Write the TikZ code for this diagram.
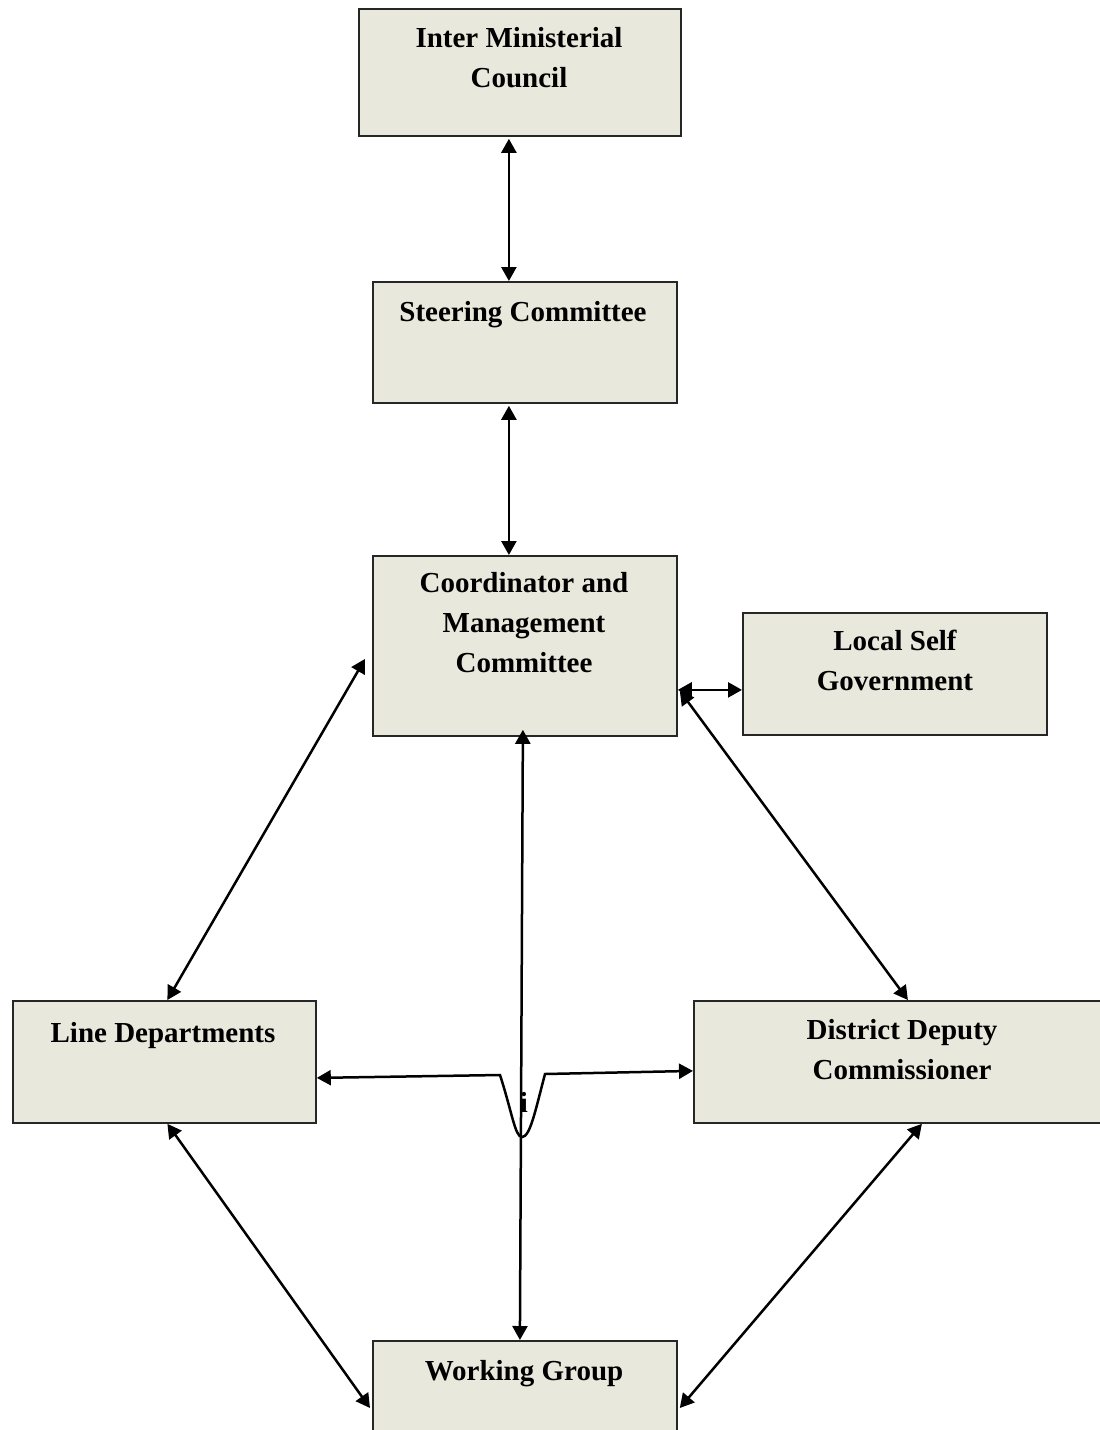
\documentclass[tikz,border=0pt]{standalone}
\usepackage{fontspec}
\setmainfont{Liberation Serif}
\usetikzlibrary{arrows.meta,calc}
\definecolor{boxfill}{RGB}{233,232,220}
\tikzset{
  box/.style={draw=black!85,line width=1.8pt,fill=boxfill,rectangle,inner sep=0pt,anchor=north west},
  lbl/.style={font=\fontsize{29}{40}\selectfont\bfseries,align=center,anchor=base,inner sep=0pt},
  conn/.style={line width=2.5pt,{Triangle[length=14pt,width=15pt]}-{Triangle[length=14pt,width=15pt]}}
}
\begin{document}
\begin{tikzpicture}[x=1pt,y=-1pt]
\clip (0,0) rectangle (1100,1430);
\fill[white] (0,0) rectangle (1100,1430);
% boxes
\node[box,minimum width=322pt,minimum height=127pt] (imc) at (358,8) {};
\node[box,minimum width=304pt,minimum height=121pt] (sc) at (372,281) {};
\node[box,minimum width=304pt,minimum height=180pt] (cmc) at (372,555) {};
\node[box,minimum width=304pt,minimum height=122pt] (lsg) at (742,612) {};
\node[box,minimum width=303pt,minimum height=122pt] (ld) at (12,1000) {};
\node[box,minimum width=420pt,minimum height=122pt] (ddc) at (693,1000) {};
\node[box,minimum width=304pt,minimum height=130pt] (wg) at (372,1340) {};
% labels (anchor base = baseline of the last line)
\node[lbl] (imct) at (519,87) {Inter Ministerial\\Council};
\node[lbl] (sct) at (523,321) {Steering Committee};
\node[lbl] (cmct) at (524,672) {Coordinator and\\Management\\Committee};
\node[lbl] (lsgt) at (895,690) {Local Self\\Government};
\node[lbl] (ldt) at (163,1042) {Line Departments};
\node[lbl] (ddct) at (902,1079) {District Deputy\\Commissioner};
\node[lbl] (wgt) at (524,1380) {Working Group};
\node[lbl] (it) at (524,1112) {i};
% connectors
\draw[conn] ($(imc.south)+(-11,2)$) -- ($(sc.north)+(-16,0)$);
\draw[conn] ($(sc.south)+(-16,2)$) -- ($(cmc.north)+(-16,0)$);
\draw[conn] ($(cmc.west)+(-7,13)$) -- ($(ld.north)+(3,0)$);
\draw[conn] ($(cmc.east)+(0,44)$) -- ($(lsg.west)+(0,16)$);
\draw[conn] ($(cmc.south east)+(2,-46)$) -- ($(ddc.north)+(4,0)$);
\draw[conn] ($(cmc.south)+(-2,-7)$) -- ($(wg.north)+(-5,0)$);
\draw[conn] ($(ld.south)+(3,0)$) -- ($(wg.north west)+(-2,68)$);
\draw[conn] ($(ddc.south)+(18,0)$) -- ($(wg.north east)+(2,68)$);
\coordinate (cl) at (500,1075);
\coordinate (cb) at (522,1137);
\coordinate (cr) at (545,1074);
\draw[conn] ($(ld.east)+(0,16)$) -- (cl)
  .. controls (512,1112) and (515,1137) .. (cb)
  .. controls (530,1137) and (535,1112) .. (cr)
  -- ($(ddc.west)+(0,9)$);
\end{tikzpicture}
\end{document}
